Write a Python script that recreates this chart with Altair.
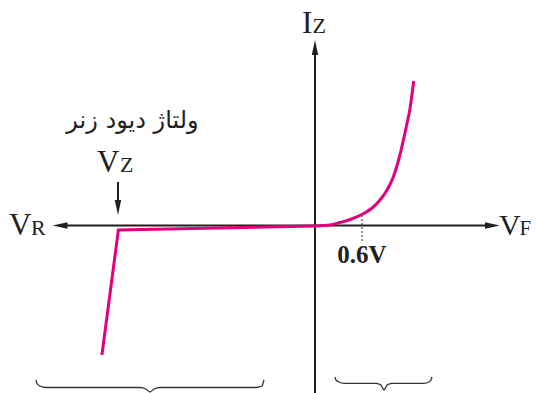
import altair as alt
import pandas as pd

# Zener diode I-V characteristic
# (x: voltage in volts, y: current in arbitrary units)
rev_v = [-2.72, -2.51, 0.0]
rev_i = [-12.95, -0.45, -0.05]
fwd_v = [0.0, 0.19, 0.32, 0.45, 0.61, 0.73, 0.83, 0.92, 1.0, 1.06, 1.12, 1.17, 1.21, 1.26]
fwd_i = [-0.05, 0.05, 0.3, 0.6, 1.15, 1.75, 2.55, 3.55, 4.85, 6.35, 8.25, 10.05, 11.55, 14.45]

knee_v = 0.6          # forward knee voltage
zener_v = -2.515      # zener breakdown voltage position

# braces under the reverse and forward regions
brace_l_x = [-3.562, -3.549, -3.511, -3.434, -2.234, -2.158, -2.106, -2.055, -1.979, -0.753, -0.677, -0.664, -0.651]
brace_l_y = [-15.45, -15.8, -16.05, -16.2, -16.2, -16.35, -16.65, -16.35, -16.2, -16.2, -16.05, -15.8, -15.45]
brace_r_x = [0.255, 0.268, 0.306, 0.370, 0.779, 0.843, 0.881, 0.919, 0.983, 1.392, 1.455, 1.481, 1.494]
brace_r_y = [-15.15, -15.45, -15.65, -15.78, -15.78, -15.95, -16.45, -15.95, -15.78, -15.78, -15.65, -15.45, -15.15]

BLACK = "#231f20"
PINK = "#e4007c"
SERIF = "Liberation Serif"

xs = alt.Scale(domain=[-3.919, 2.7575], nice=False, zero=False)
ys = alt.Scale(domain=[-16.75, 21.75], nice=False, zero=False)

def X(f="x"):
    return alt.X(f"{f}:Q", scale=xs, axis=None)

def Y(f="y"):
    return alt.Y(f"{f}:Q", scale=ys, axis=None)

rev = pd.DataFrame({"x": rev_v, "y": rev_i, "i": range(len(rev_v))})
fwd = pd.DataFrame({"x": fwd_v, "y": fwd_i, "i": range(len(fwd_v))})

braces = pd.DataFrame({
    "x": brace_l_x + brace_r_x,
    "y": brace_l_y + brace_r_y,
    "b": ["L"] * len(brace_l_x) + ["R"] * len(brace_r_x),
    "i": list(range(len(brace_l_x))) + list(range(len(brace_r_x))),
})

axes = pd.DataFrame({
    "x": [-3.255, 0.0, zener_v],
    "x2": [2.266, 0.0, zener_v],
    "y": [0.0, 17.8, 4.35],
    "y2": [0.0, -16.75, 1.8],
})

heads = pd.DataFrame({
    "x": [-3.255, 2.266, 0.0, zener_v],
    "y": [0.0, 0.0, 17.8, 1.8],
    "shape": [
        "M1,-0.43L-1,0L1,0.43Z",
        "M-1,-0.43L1,0L-1,0.43Z",
        "M-0.43,1L0,-1L0.43,1Z",
        "M-0.43,-1L0,1L0.43,-1Z",
    ],
})

dotted = pd.DataFrame({"x": [knee_v], "y": [1.05], "y2": [-1.65]})

big = pd.DataFrame({"t": ["I", "V", "V", "V"],
                    "x": [-0.166, 2.349, -3.907, -2.783],
                    "y": [19.25, -0.95, -0.95, 5.35],
                    "s": [31, 30, 31, 31]})
small = pd.DataFrame({"t": ["Z", "F", "R", "Z"],
                      "x": [-0.032, 2.611, -3.626, -2.489],
                      "y": [19.25, -0.95, -0.95, 5.35],
                      "s": [22, 21, 22, 22]})
persian = pd.DataFrame({"t": ["ولتاژ دیود زنر"], "x": [-2.33], "y": [10.45]})
knee_lbl = pd.DataFrame({"t": ["0.6V"], "x": [knee_v], "y": [-3.75]})

axis_layer = alt.Chart(axes).mark_rule(color=BLACK, strokeWidth=2).encode(
    x=X(), x2="x2:Q", y=Y(), y2="y2:Q")

head_layer = alt.Chart(heads).mark_point(filled=True, opacity=1, size=225, color=BLACK, strokeWidth=0).encode(
    x=X(), y=Y(), shape=alt.Shape("shape:N", scale=None))

dot_layer = alt.Chart(dotted).mark_rule(color=BLACK, strokeWidth=1, strokeDash=[2, 2]).encode(
    x=X(), y=Y(), y2="y2:Q")

rev_layer = alt.Chart(rev).mark_line(color=PINK, strokeWidth=3, strokeJoin="miter").encode(
    x=X(), y=Y(), order="i:Q")
fwd_layer = alt.Chart(fwd).mark_line(color=PINK, strokeWidth=3, interpolate="monotone").encode(
    x=X(), y=Y(), order="i:Q")

brace_layer = alt.Chart(braces).mark_line(color="#333333", strokeWidth=1.3, interpolate="monotone").encode(
    x=X(), y=Y(), detail="b:N", order="i:Q")

big_layer = alt.Chart(big).mark_text(font=SERIF, color=BLACK, align="left", baseline="alphabetic").encode(
    x=X(), y=Y(), text="t:N", size=alt.Size("s:Q", scale=None))
small_layer = alt.Chart(small).mark_text(font=SERIF, color=BLACK, align="left", baseline="alphabetic").encode(
    x=X(), y=Y(), text="t:N", size=alt.Size("s:Q", scale=None))
persian_layer = alt.Chart(persian).mark_text(font="DejaVu Sans", fontSize=24, color=BLACK, align="center", baseline="middle").encode(
    x=X(), y=Y(), text="t:N")
knee_layer = alt.Chart(knee_lbl).mark_text(font=SERIF, fontSize=25, fontWeight="bold", color=BLACK, align="center", baseline="alphabetic").encode(
    x=X(), y=Y(), text="t:N")

chart = alt.layer(
    axis_layer, dot_layer, brace_layer, rev_layer, fwd_layer, head_layer,
    big_layer, small_layer, persian_layer, knee_layer,
).properties(
    width=523, height=385, padding=0, autosize="none", background="white"
).configure_view(stroke=None)

chart.save("out.html", embed_options={"renderer": "svg", "actions": False})
